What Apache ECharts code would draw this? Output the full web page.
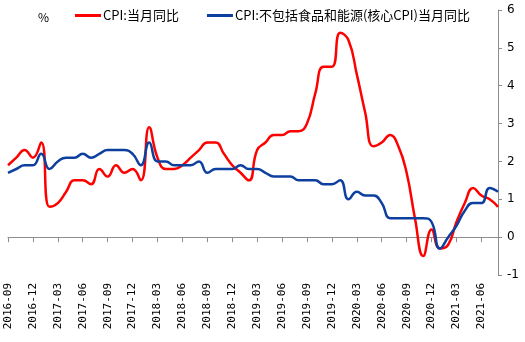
<!DOCTYPE html>
<html>
<head>
<meta charset="utf-8">
<script src="https://cdn.jsdelivr.net/npm/echarts@6/dist/echarts.min.js"></script>
<style>html,body{margin:0;padding:0;background:#fff;}#c{width:525px;height:342px;}</style>
</head>
<body>
<div id="c"></div>
<script>
var months = [
 '2016-09','2016-10','2016-11','2016-12',
 '2017-01','2017-02','2017-03','2017-04','2017-05','2017-06','2017-07','2017-08','2017-09','2017-10','2017-11','2017-12',
 '2018-01','2018-02','2018-03','2018-04','2018-05','2018-06','2018-07','2018-08','2018-09','2018-10','2018-11','2018-12',
 '2019-01','2019-02','2019-03','2019-04','2019-05','2019-06','2019-07','2019-08','2019-09','2019-10','2019-11','2019-12',
 '2020-01','2020-02','2020-03','2020-04','2020-05','2020-06','2020-07','2020-08','2020-09','2020-10','2020-11','2020-12',
 '2021-01','2021-02','2021-03','2021-04','2021-05','2021-06','2021-07','2021-08'
];
var cpi = [
 1.9,2.1,2.3,2.1,
 2.5,0.8,0.9,1.2,1.5,1.5,1.4,1.8,1.6,1.9,1.7,1.8,
 1.5,2.9,2.1,1.8,1.8,1.9,2.1,2.3,2.5,2.5,2.2,1.9,
 1.7,1.5,2.3,2.5,2.7,2.7,2.8,2.8,3.0,3.8,4.5,4.5,
 5.4,5.2,4.3,3.3,2.4,2.5,2.7,2.4,1.7,0.5,-0.5,0.2,
 -0.3,-0.2,0.4,0.9,1.3,1.1,1.0,0.8
];
var coreCpi = [
 1.7,1.8,1.9,1.9,
 2.2,1.8,2.0,2.1,2.1,2.2,2.1,2.2,2.3,2.3,2.3,2.2,
 1.9,2.5,2.0,2.0,1.9,1.9,1.9,2.0,1.7,1.8,1.8,1.8,
 1.9,1.8,1.8,1.7,1.6,1.6,1.6,1.5,1.5,1.5,1.4,1.4,
 1.5,1.0,1.2,1.1,1.1,0.9,0.5,0.5,0.5,0.5,0.5,0.4,
 -0.3,0.0,0.3,0.7,0.9,0.9,1.3,1.2
];
var seriesNames = ['CPI:当月同比', 'CPI:不包括食品和能源(核心CPI)当月同比'];
var yTicks = {min: -1, max: 6, interval: 1};

var chart = echarts.init(document.getElementById('c'), null, {renderer: 'canvas'});
var cjk = '"Noto Sans CJK SC", sans-serif';
chart.setOption({
  animation: false,
  backgroundColor: '#ffffff',
  title: {
    text: '%', left: 33, top: 6,
    textStyle: {fontSize: 12, fontWeight: 'normal', color: '#000', fontFamily: cjk}
  },
  legend: {
    left: 70, top: 4,
    itemWidth: 26, itemHeight: 3, itemGap: 28,
    icon: 'rect',
    textStyle: {fontSize: 13, color: '#000', fontFamily: cjk, padding: [0,0,0,-3]},
    data: seriesNames
  },
  grid: {left: 8, right: 27, top: 10, bottom: 67, containLabel: false},
  xAxis: [{
    type: 'category', data: months, boundaryGap: false, position: 'bottom',
    axisLine: {show: false, onZero: false},
    axisTick: {show: false},
    splitLine: {show: false},
    axisLabel: {rotate: 90, interval: 2, margin: 8, fontSize: 11, color: '#000',
      fontFamily: '"DejaVu Sans Mono", monospace'}
  }, {
    type: 'category', data: months, boundaryGap: false, position: 'bottom',
    axisLine: {show: true, onZero: true, lineStyle: {color: '#8c8c8c', width: 1}},
    axisTick: {show: true, interval: 2, length: 5, lineStyle: {color: '#8c8c8c'}},
    axisLabel: {show: false},
    splitLine: {show: false}
  }],
  yAxis: {
    type: 'value', position: 'right',
    min: yTicks.min, max: yTicks.max, interval: yTicks.interval,
    axisLine: {show: true, lineStyle: {color: '#8c8c8c', width: 1}},
    axisTick: {show: true, length: 4, inside: false, lineStyle: {color: '#8c8c8c'}},
    splitLine: {show: false},
    axisLabel: {margin: 9, fontSize: 12, color: '#000', fontFamily: '"DejaVu Sans", sans-serif'}
  },
  series: [{
    name: seriesNames[0], type: 'line', xAxisIndex: 0, data: cpi,
    smooth: 0.5, symbol: 'none', color: '#ff0000',
    lineStyle: {width: 2.5, color: '#ff0000'}
  }, {
    name: seriesNames[1], type: 'line', xAxisIndex: 0, data: coreCpi,
    smooth: 0.5, symbol: 'none', color: '#0d3f9f',
    lineStyle: {width: 2.5, color: '#0d3f9f'}
  }]
});
</script>
</body>
</html>
